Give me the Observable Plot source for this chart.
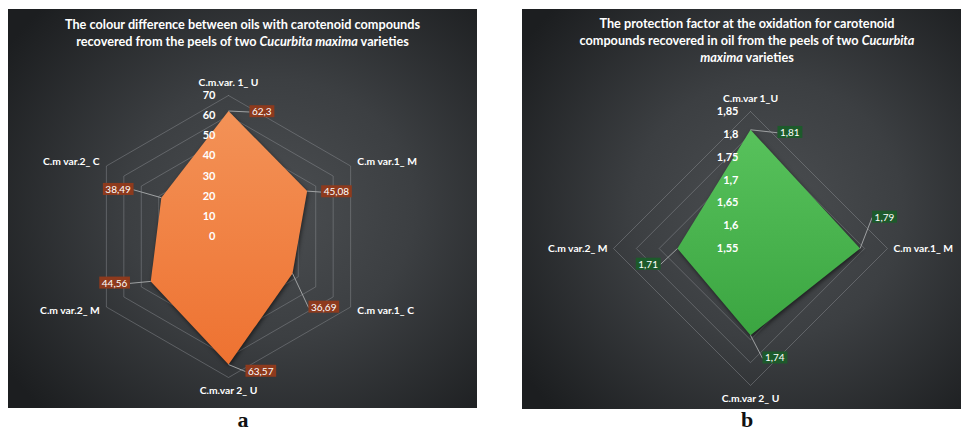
<!DOCTYPE html>
<html>
<head>
<meta charset="utf-8">
<script src="https://cdn.jsdelivr.net/npm/d3@7"></script>
<script src="https://cdn.jsdelivr.net/npm/@observablehq/plot@0.6"></script>
<style>
  html, body { margin: 0; padding: 0; background: #fff; }
  body { width: 961px; height: 432px; position: relative; overflow: hidden; font-family: Lato, "Open Sans", sans-serif; }
  .panel { position: absolute; overflow: hidden;
    background: radial-gradient(ellipse 68% 72% at 56% 50%, #4b4e51 0%, #3c3f42 45%, #1c1e20 100%); }
  .panel svg { position: absolute; left: 0; top: 0; }
  .title { position: absolute; text-align: center; color: #fff; font-weight: 700;
    font-size: 12.7px; line-height: 17px; z-index: 2; }
  .tag { position: absolute; font-family: "Liberation Serif", "DejaVu Serif", serif; font-weight: 700;
    font-size: 22px; line-height: 20px; height: 20px; color: #111; transform: translateX(-50%); }
</style>
</head>
<body>
<div id="panel-a" class="panel" style="left:8px;top:9px;width:469px;height:399px">
  <div class="title" style="left:0;width:469px;top:7px">The colour difference between oils with carotenoid compounds<br>recovered from the peels of two <i>Cucurbita maxima</i> varieties</div>
</div>
<div id="panel-b" class="panel" style="left:522px;top:9px;width:439px;height:400px">
  <div class="title" style="left:0;width:450px;top:6px">The protection factor at the oxidation for carotenoid<br>compounds recovered in oil from the peels of two <i>Cucurbita</i><br><i>maxima</i> varieties</div>
</div>
<div class="tag" style="left:243px;top:410px">a</div>
<div class="tag" style="left:747px;top:410px">b</div>

<script>
// Chart a: colour difference
const colourAxes = ["C.m.var. 1_ U", "C.m var.1_ M", "C.m var.1_ C", "C.m.var 2_ U", "C.m var.2_ M", "C.m var.2_ C"];
const colourValues = [62.3, 45.08, 36.69, 63.57, 44.56, 38.49];
const colourTicks = [0, 10, 20, 30, 40, 50, 60, 70];
const colourTickLabels = ["0", "10", "20", "30", "40", "50", "60", "70"];

// Chart b: protection factor
const pfAxes = ["C.m.var 1_U", "C.m var.1_ M", "C.m.var 2_ U", "C.m var.2_ M"];
const pfValues = [1.81, 1.79, 1.74, 1.71];
const pfTicks = [1.55, 1.6, 1.65, 1.7, 1.75, 1.8, 1.85];
const pfTickLabels = ["1,55", "1,6", "1,65", "1,7", "1,75", "1,8", "1,85"];

const commaNum = v => String(v).replace(".", ",");

function radar(container, cfg) {
  const n = cfg.axes.length;
  const base = cfg.ticks[0];
  const R = cfg.ticks[cfg.ticks.length - 1] - base;
  const k = cfg.radius / R; // pixels per value unit
  const ang = i => (2 * Math.PI * (i % n)) / n;
  const polar = (r, i) => ({x: r * Math.sin(ang(i)), y: r * Math.cos(ang(i))});

  const pts = cfg.values.map((v, i) => ({i, v, ...polar(v - base, i)}));
  const rings = cfg.ticks.filter(t => t > base)
    .flatMap(t => d3.range(n + 1).map(i => ({t, ...polar(t - base, i)})));
  const outer = cfg.axes.map((name, i) => ({name, i, ...polar(R, i)}));

  const marks = [
    Plot.line(rings, {x: "x", y: "y", z: "t", stroke: "#9a9da0", strokeOpacity: 0.45, strokeWidth: 0.9}),
    Plot.line([...pts, pts[0]], {x: "x", y: "y", fill: cfg.colors[1], stroke: "none", ariaLabel: () => "series"}),
    Plot.text(cfg.ticks, {
      x: () => 0, y: t => t - base, text: (t, j) => cfg.tickLabels[j],
      textAnchor: "end", dx: cfg.tickDx, fill: "#fff", fontWeight: 700, fontSize: 11
    })
  ];

  // category names just outside the outer ring
  outer.forEach(d => {
    const s = Math.sin(ang(d.i)), c = Math.cos(ang(d.i));
    const gap = 6 + 7 * c * c;
    marks.push(Plot.text([d], {
      x: "x", y: "y", text: "name",
      textAnchor: Math.abs(s) < 0.01 ? "middle" : s > 0 ? "start" : "end",
      dx: s * gap, dy: -c * gap,
      fill: "#fff", fontWeight: 700, fontSize: 10.3
    }));
  });

  // leader lines and value labels
  const ends = pts.map((d, j) => ({...d, x2: d.x + cfg.labelOffsets[j][0] / k, y2: d.y - cfg.labelOffsets[j][1] / k}));
  marks.push(Plot.link(ends, {x1: "x", y1: "y", x2: "x2", y2: "y2", stroke: "#a9abad", strokeWidth: 0.9}));
  ends.forEach((d, j) => {
    const right = cfg.labelOffsets[j][0] >= 0;
    marks.push(Plot.text([d], {
      x: "x2", y: "y2", text: d => commaNum(d.v),
      textAnchor: right ? "start" : "end", dx: right ? 2.5 : -2.5,
      fill: "#fff", fontSize: 10, ariaLabel: () => "value-label"
    }));
  });

  const svg = Plot.plot({
    width: cfg.width, height: cfg.height, margin: 0,
    x: {axis: null, domain: [-R, R], range: [cfg.cx - cfg.radius, cfg.cx + cfg.radius]},
    y: {axis: null, domain: [-R, R], range: [cfg.cy + cfg.radius, cfg.cy - cfg.radius]},
    style: {background: "transparent", fontFamily: "Lato, 'Open Sans', sans-serif", overflow: "visible"},
    marks
  });
  container.appendChild(svg);

  // gradient fill and soft shadow for the series polygon
  const s = d3.select(svg);
  const grad = s.insert("defs", ":first-child").append("linearGradient")
    .attr("id", `${cfg.id}-fill`).attr("x1", 0).attr("y1", 0).attr("x2", 0).attr("y2", 1);
  grad.append("stop").attr("offset", "0%").attr("stop-color", cfg.colors[0]);
  grad.append("stop").attr("offset", "100%").attr("stop-color", cfg.colors[1]);
  s.selectAll('path[aria-label="series"]')
    .attr("fill", `url(#${cfg.id}-fill)`)
    .style("filter", "drop-shadow(1.5px 2px 2px rgba(0,0,0,0.55))");

  // boxes behind the value labels
  s.selectAll('text[aria-label="value-label"]').each(function () {
    const b = this.getBBox();
    const r = document.createElementNS("http://www.w3.org/2000/svg", "rect");
    r.setAttribute("x", b.x - 2.5);
    r.setAttribute("y", b.y);
    r.setAttribute("width", b.width + 5);
    r.setAttribute("height", b.height);
    r.setAttribute("fill", cfg.boxColor);
    const t = this.getAttribute("transform");
    if (t) r.setAttribute("transform", t);
    this.parentNode.insertBefore(r, this);
  });
}

radar(document.getElementById("panel-a"), {
  id: "colour", axes: colourAxes, values: colourValues, ticks: colourTicks, tickLabels: colourTickLabels,
  width: 469, height: 399, cx: 220, cy: 227, radius: 141, tickDx: -13,
  labelOffsets: [[21, 1], [14, 1], [16, 34], [17, 7], [-21, 2], [-28, -8]],
  colors: ["#f39257", "#ee7231"], boxColor: "#8e3a1d"
});

radar(document.getElementById("panel-b"), {
  id: "pf", axes: pfAxes, values: pfValues, ticks: pfTicks, tickLabels: pfTickLabels,
  width: 439, height: 400, cx: 228, cy: 239, radius: 137, tickDx: -12,
  labelOffsets: [[27, 3], [12, -31], [12, 23], [-17, 16]],
  colors: ["#58c25c", "#3ba541"], boxColor: "#1d5a2b"
});
</script>
</body>
</html>
